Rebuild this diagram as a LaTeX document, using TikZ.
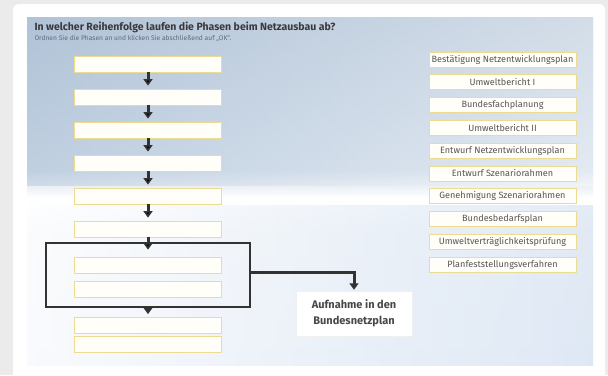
\documentclass[tikz,border=0pt]{standalone}
\usepackage{fontspec}
\setmainfont{Fira Sans}
\usepackage{xcolor}
\usetikzlibrary{positioning}
\usetikzlibrary{arrows.meta}

\definecolor{pagegray}{HTML}{EBEBEB}
\definecolor{slotline}{HTML}{EEDB92}
\definecolor{slotfill}{HTML}{FFFEF8}
\definecolor{flowgray}{HTML}{333333}
\definecolor{titlegray}{HTML}{3A3A3A}
\definecolor{subgray}{HTML}{5B6B7B}
\definecolor{phasetext}{HTML}{555555}
\definecolor{skytop}{HTML}{A9BDD3}
\definecolor{skyband}{HTML}{CFDCEA}
\definecolor{skylow}{HTML}{D0DEF0}

\pgfdeclareverticalshading{sky}{100bp}{color(0bp)=(skylow); color(25bp)=(white!70!skylow); color(44bp)=(white!80!skyband);
  color(49bp)=(white); color(53bp)=(skyband); color(75bp)=(skytop!85!white); color(100bp)=(skytop)}

\begin{document}
\begin{tikzpicture}[x=1pt,y=-1pt,on grid,node distance=33pt,
      slot/.style={draw=slotline, fill=slotfill, line width=0.8pt, minimum width=147pt, minimum height=16pt, inner sep=0pt},
      phase/.style={draw=slotline, fill=slotfill, line width=0.8pt, minimum width=147pt, minimum height=15pt, inner sep=0pt,
        font=\fontsize{9.1}{10}\selectfont, text=phasetext},
      flow/.style={draw=flowgray, line width=3pt, shorten >=3pt, -{Triangle[width=9pt,length=6.5pt]}}]

      % page and panel
      \clip (0,0) rectangle (608,375);
      \fill[pagegray] (0,0) rectangle (608,375);
      \fill[white, rounded corners=6pt] (13,4) rectangle (605,385);
      \shade[shading=sky] (27,17) rectangle (593,365);
      \shade[left color=skytop, right color=white, opacity=0.4] (27,17) rectangle (593,185);
      \shade[left color=white, right color=skylow, opacity=0.55] (27,205) rectangle (593,365);

      \node[anchor=west, font=\bfseries\fontsize{10.5}{12}\selectfont, text=titlegray] (title) at (31,27) {In welcher Reihenfolge laufen die Phasen beim Netzausbau ab?};
      \node[anchor=west, font=\fontsize{6.7}{8}\selectfont, text=subgray] (subtitle) at (31,38.5) {Ordnen Sie die Phasen an und klicken Sie abschließend auf „OK“.};

      % slots on the left
      \node[slot] (l1) at (148,64) {};
      \node[slot] (l2) [below=of l1] {};
      \node[slot] (l3) [below=of l2] {};
      \node[slot] (l4) [below=of l3] {};
      \node[slot] (l5) [below=of l4] {};
      \node[slot] (l6) [below=of l5] {};

      \node[draw=flowgray, line width=1.8pt, minimum width=204pt, minimum height=64pt] (frame) at (148,275) {};
      \node[slot] (l7) at (148,265) {};
      \node[slot] (l8) [below=24pt of l7] {};
      \node[slot] (l9) at (148,325.5) {};
      \node[slot] (l10) [below=18.5pt of l9] {};

      \node[fill=white, draw=black!6, minimum width=116pt, minimum height=45pt, align=center,
        font=\bfseries\fontsize{11}{16}\selectfont, text=flowgray!90] (aufnahme) at (354,313.5) {Aufnahme in den\\Bundesnetzplan};

      % phases on the right
      \node[phase] (p1) at (502.5,59.5) {Bestätigung Netzentwicklungsplan};
      \node[phase] (p2) [below=22.8pt of p1] {Umweltbericht I};
      \node[phase] (p3) [below=22.8pt of p2] {Bundesfachplanung};
      \node[phase] (p4) [below=22.8pt of p3] {Umweltbericht II};
      \node[phase] (p5) [below=22.8pt of p4] {Entwurf Netzentwicklungsplan};
      \node[phase] (p6) [below=22.8pt of p5] {Entwurf Szenariorahmen};
      \node[phase] (p7) [below=22.8pt of p6] {Genehmigung Szenariorahmen};
      \node[phase] (p8) [below=22.8pt of p7] {Bundesbedarfsplan};
      \node[phase] (p9) [below=22.8pt of p8] {Umweltverträglichkeitsprüfung};
      \node[phase] (p10) [below=22.8pt of p9] {Planfeststellungsverfahren};

      \path[flow]
        (l1) edge [] (l2)
        (l2) edge [] (l3)
        (l3) edge [] (l4)
        (l4) edge [] (l5)
        (l5) edge [] (l6)
        (l6) edge [shorten >=7pt] (l7);
      \draw[flow] (frame.south) -- (l9.north);
      \draw[flow, shorten >=1pt] ([yshift=3pt]frame.east) -| (aufnahme.north);

    \end{tikzpicture}
\end{document}
